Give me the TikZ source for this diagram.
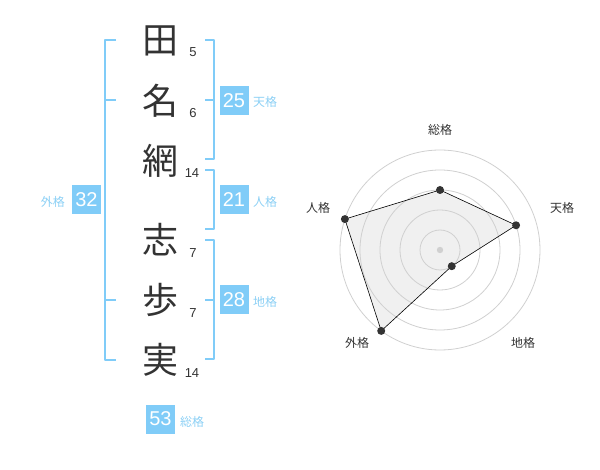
\documentclass[tikz,border=0pt]{standalone}
\usepackage{fontspec}
\setmainfont{Liberation Sans}
\newfontfamily\jp{Noto Sans CJK JP}
\definecolor{sky}{RGB}{128,204,248}
\definecolor{skytext}{RGB}{140,208,245}
\definecolor{ink}{RGB}{51,51,51}
\definecolor{ringgray}{RGB}{208,208,208}
\begin{document}
\begin{tikzpicture}[x=1pt,y=-1pt, line join=round,
 kanji/.style={font=\jp\fontsize{36}{36}\selectfont, text=ink, inner sep=0pt},
 strokes/.style={font=\fontsize{13}{13}\selectfont, text=ink, inner sep=0pt},
 score/.style={fill=sky, text=white, minimum size=29pt, inner sep=0pt, font=\fontsize{20}{20}\selectfont},
 kaku/.style={text=skytext, inner sep=0pt, font=\jp\fontsize{12}{12}\selectfont},
 brk/.style={sky, line width=2pt},
 axis label/.style={text=ink, inner sep=0pt, font=\jp\fontsize{12}{12}\selectfont}]
\useasboundingbox (0,0) rectangle (600,470);
% name
\node[kanji] (c1) at (160,41) {田};
\node[kanji] (c2) at (160,101) {名};
\node[kanji] (c3) at (160,161) {網};
\node[kanji] (c4) at (160,240) {志};
\node[kanji] (c5) at (160,300) {歩};
\node[kanji] (c6) at (160,360) {実};
\node[strokes] (n1) at (193,52) {5};
\node[strokes] (n2) at (193,113) {6};
\node[strokes] (n3) at (192,173) {14};
\node[strokes] (n4) at (193,253) {7};
\node[strokes] (n5) at (193,313) {7};
\node[strokes] (n6) at (192,373) {14};
% brackets
\draw[brk] (116,40)--(105,40)--(105,360)--(116,360) (105,100)--(116,100) (105,300)--(116,300);
\draw[brk] (205,40)--(214,40)--(214,159)--(205,159) (205,100)--(214,100);
\draw[brk] (205,170)--(214,170)--(214,229)--(205,229);
\draw[brk] (205,240)--(214,240)--(214,359)--(205,359) (205,300)--(214,300);
% scores
\node[score] (gai) at (86.5,200) {32};
\node[kaku,anchor=east] at (65,202) {外格};
\node[score] (ten) at (234,100.5) {25};
\node[kaku,anchor=west] at (253,102) {天格};
\node[score] (jin) at (234,200) {21};
\node[kaku,anchor=west] at (253,202) {人格};
\node[score] (chi) at (234,300) {28};
\node[kaku,anchor=west] at (253,302) {地格};
\node[score] (so) at (160.5,419) {53};
\node[kaku,anchor=west] at (180,422) {総格};
% radar
\begin{scope}[shift={(440,250)}, yscale=-1]
\coordinate (pso) at (90:60);
\coordinate (pten) at (18:80);
\coordinate (pchi) at (-54:20);
\coordinate (pgai) at (234:100);
\coordinate (pjin) at (162:100);
\fill[black!6] (pso)--(pten)--(pchi)--(pgai)--(pjin)--cycle;
\foreach \r in {20,40,...,100} \draw[ringgray, line width=0.8pt] (0,0) circle (\r);
\fill[ringgray] (0,0) circle (3.2);
\draw[line width=0.6pt] (pso)--(pten)--(pchi)--(pgai)--(pjin)--cycle;
\foreach \p in {pso,pten,pchi,pgai,pjin} \fill[ink] (\p) circle (4);
\end{scope}
\node[axis label] (lso) at (440,130) {総格};
\node[axis label] (lten) at (562,208) {天格};
\node[axis label] (lchi) at (523,343) {地格};
\node[axis label] (lgai) at (357,343) {外格};
\node[axis label] (ljin) at (318,208) {人格};
\end{tikzpicture}
\end{document}
